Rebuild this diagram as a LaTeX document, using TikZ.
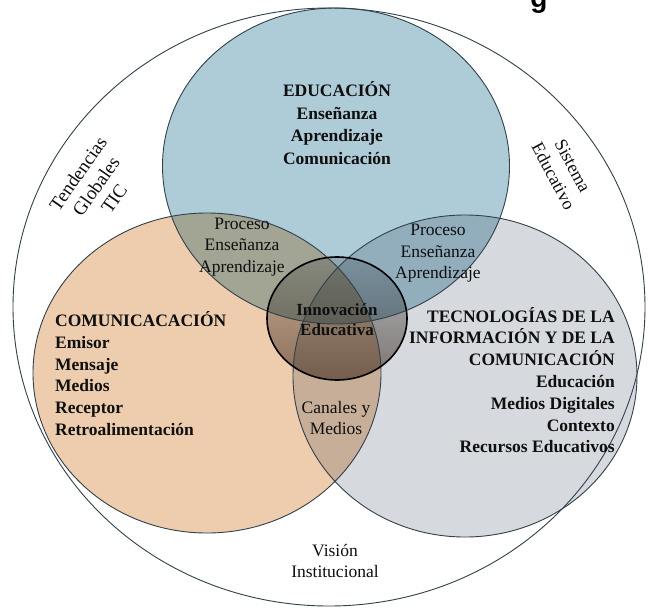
\documentclass[tikz,border=0pt]{standalone}
\usepackage{fontspec}
\setmainfont{Liberation Serif}
\newfontfamily\gsans{Liberation Sans}
\definecolor{eduC}{RGB}{174,204,216}
\definecolor{comC}{RGB}{238,205,175}
\definecolor{ticC}{RGB}{214,217,222}
\definecolor{ringC}{RGB}{50,64,74}
\definecolor{txtC}{RGB}{15,15,15}
\definecolor{innTop}{RGB}{212,214,216}
\definecolor{innBot}{RGB}{150,138,130}
\tikzset{
  ring/.style={draw=ringC, line width=0.9pt},
  hdr/.style={font=\bfseries\fontsize{17.5}{21.8}\selectfont, text=txtC, inner sep=0pt},
  lbl/.style={font=\fontsize{17.5}{21.8}\selectfont, text=txtC, inner sep=0pt},
  rot/.style={font=\fontsize{18}{21.8}\selectfont, text=txtC, inner sep=0pt, align=center},
}
\begin{document}
\begin{tikzpicture}[x=1pt,y=-1pt]
\useasboundingbox (0,0) rectangle (649,611);
\fill[white] (0,0) rectangle (649,611);
% fragment of cut-off caption
\node[font=\gsans\bfseries\fontsize{28}{30}\selectfont, anchor=base, inner sep=0pt] (gfrag) at (539,7) {g};
% fills
\begin{scope}[blend mode=multiply]
  \fill[eduC] (336,166) ellipse [x radius=173.5pt, y radius=158pt];
  \fill[comC] (207,373) ellipse [x radius=174pt, y radius=160pt];
  \fill[ticC] (465,376) ellipse [x radius=172pt, y radius=161pt];
  \shade[top color=innTop, bottom color=innBot] (337,318.5) ellipse [x radius=70pt, y radius=61.5pt];
\end{scope}
% outlines
\draw[ring] (329,307) ellipse [x radius=316pt, y radius=299pt];
\draw[ring] (336,166) ellipse [x radius=173.5pt, y radius=158pt];
\draw[ring] (207,373) ellipse [x radius=174pt, y radius=160pt];
\draw[ring] (465,376) ellipse [x radius=172pt, y radius=161pt];
\draw[black, line width=1.6pt] (337,318.5) ellipse [x radius=70pt, y radius=61.5pt];
% texts
\node[hdr, align=center, font=\bfseries\fontsize{17.5}{22.6}\selectfont] (edu) at (337,123) {EDUCACIÓN\\Enseñanza\\Aprendizaje\\Comunicación};
\node[lbl, align=center] (procL) at (242,247) {Proceso\\Enseñanza\\Aprendizaje};
\node[lbl, align=center, font=\fontsize{17.5}{21.5}\selectfont] (procR) at (438,253.5) {Proceso\\Enseñanza\\Aprendizaje};
\node[hdr, align=center, font=\bfseries\fontsize{17}{20}\selectfont] (inn) at (337,320) {Innovación\\Educativa};
\node[hdr, align=left, anchor=west] (com) at (55,373.5) {COMUNICACACIÓN\\Emisor\\Mensaje\\Medios\\Receptor\\Retroalimentación};
\node[hdr, align=right, anchor=east] (tic) at (615,380) {TECNOLOGÍAS DE LA\\INFORMACIÓN Y DE LA\\COMUNICACIÓN\\Educación\\Medios Digitales\\Contexto\\Recursos Educativos};
\node[lbl, align=center, font=\fontsize{17.5}{21}\selectfont] (can) at (336,418.5) {Canales y\\Medios};
\node[lbl, align=center, font=\fontsize{17.5}{21}\selectfont] (vis) at (335,561) {Visión\\Institucional};
\node[rot, rotate=55, font=\fontsize{19}{22}\selectfont] (tend) at (96,186) {Tendencias\\Globales\\TIC};
\node[rot, rotate=-62] (sis) at (563,171) {Sistema\\Educativo};
\end{tikzpicture}
\end{document}
